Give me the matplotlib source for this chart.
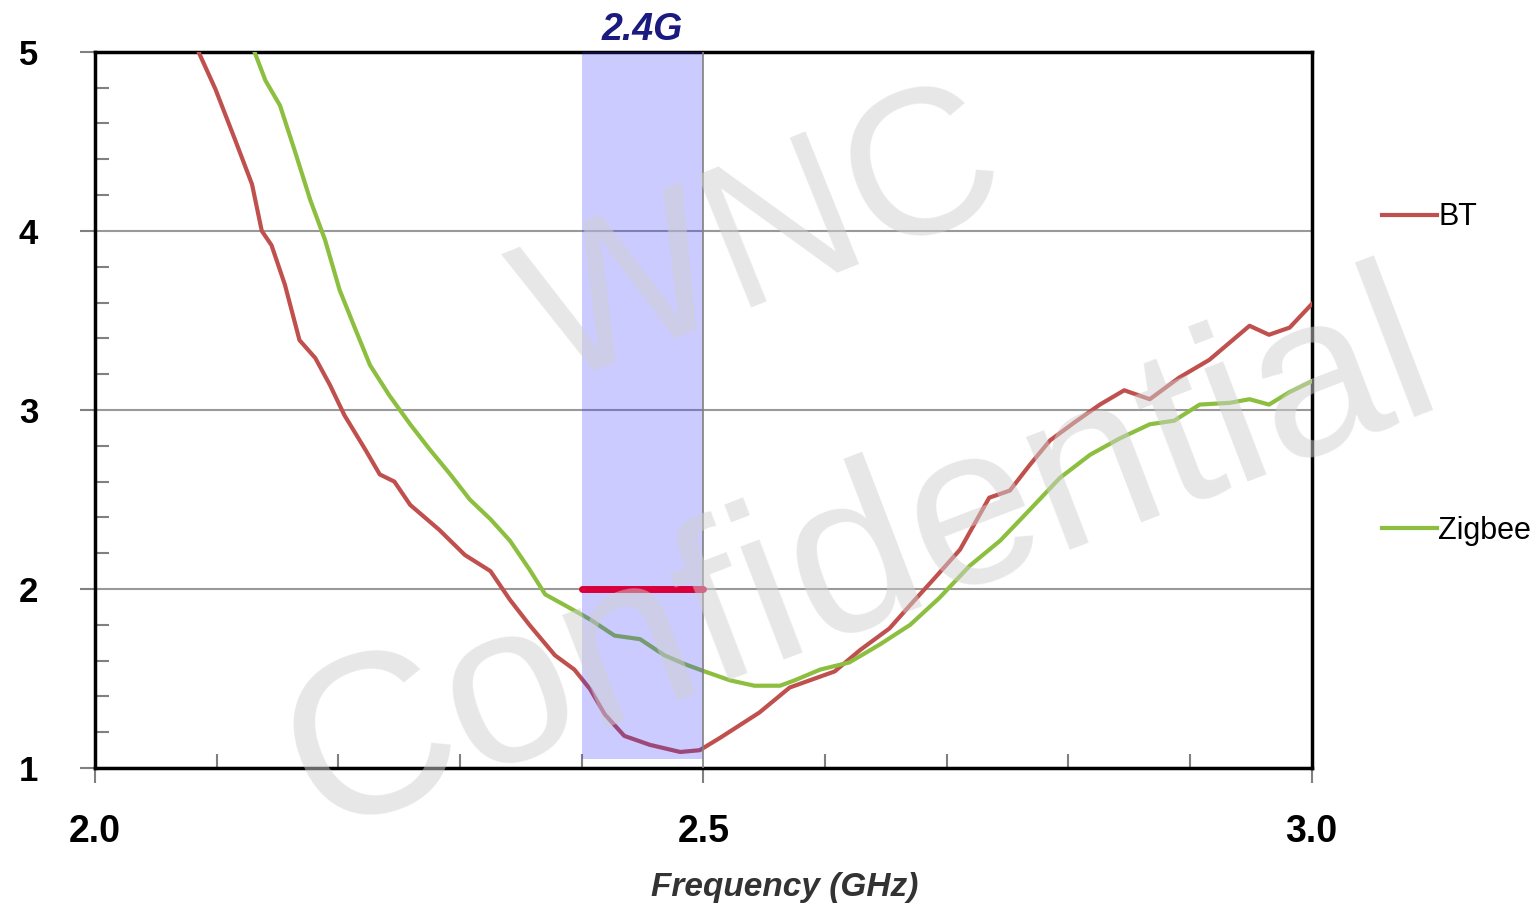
import matplotlib.pyplot as plt
from matplotlib.lines import Line2D
from matplotlib.ticker import MultipleLocator

# data (VSWR vs frequency)
bt_freq = [2.085, 2.099, 2.115, 2.129, 2.137, 2.145, 2.156, 2.168, 2.181, 2.193,
           2.205, 2.222, 2.234, 2.246, 2.259, 2.283, 2.304, 2.325, 2.341, 2.357,
           2.378, 2.394, 2.407, 2.419, 2.435, 2.456, 2.481, 2.497, 2.514, 2.546,
           2.571, 2.608, 2.629, 2.653, 2.670, 2.690, 2.711, 2.735, 2.752, 2.768,
           2.785, 2.805, 2.826, 2.846, 2.867, 2.891, 2.916, 2.949, 2.965, 2.982,
           3.000]
bt_vswr = [5.00, 4.79, 4.51, 4.26, 4.00, 3.92, 3.70, 3.39, 3.29, 3.14,
           2.97, 2.78, 2.64, 2.60, 2.47, 2.33, 2.19, 2.10, 1.94, 1.80,
           1.63, 1.55, 1.44, 1.30, 1.18, 1.13, 1.09, 1.10, 1.17, 1.31,
           1.45, 1.54, 1.66, 1.78, 1.91, 2.06, 2.22, 2.51, 2.55, 2.69,
           2.83, 2.93, 3.03, 3.11, 3.06, 3.18, 3.28, 3.47, 3.42, 3.46,
           3.59]

zig_freq = [2.131, 2.140, 2.152, 2.164, 2.177, 2.189, 2.201, 2.214, 2.226, 2.242,
            2.259, 2.275, 2.292, 2.308, 2.325, 2.341, 2.357, 2.370, 2.386, 2.407,
            2.427, 2.448, 2.468, 2.485, 2.501, 2.522, 2.542, 2.563, 2.575, 2.596,
            2.620, 2.645, 2.670, 2.694, 2.719, 2.744, 2.768, 2.793, 2.818, 2.842,
            2.867, 2.887, 2.908, 2.933, 2.949, 2.965, 2.982, 3.000]
zig_vswr = [5.00, 4.84, 4.70, 4.45, 4.17, 3.95, 3.67, 3.45, 3.25, 3.08,
            2.92, 2.78, 2.64, 2.50, 2.39, 2.27, 2.11, 1.97, 1.91, 1.83,
            1.74, 1.72, 1.63, 1.58, 1.54, 1.49, 1.46, 1.46, 1.49, 1.55,
            1.59, 1.69, 1.80, 1.95, 2.13, 2.27, 2.44, 2.62, 2.75, 2.84,
            2.92, 2.94, 3.03, 3.04, 3.06, 3.03, 3.10, 3.16]

band = [2.4, 2.5]
spec_limit = 2.0
x_ticks = [2.0, 2.5, 3.0]
x_tick_labels = ['2.0', '2.5', '3.0']
y_ticks = [1, 2, 3, 4, 5]

bt_color = '#c0504d'
zig_color = '#8cbf3f'

plt.rcParams['font.family'] = ['Liberation Sans', 'DejaVu Sans']

fig = plt.figure(figsize=(15.34, 9.09), dpi=100)
ax = fig.add_axes([0.062, 0.155, 0.793, 0.788])

# curves
ax.plot(bt_freq, bt_vswr, color=bt_color, lw=3, zorder=3, solid_joinstyle='round')
ax.plot(zig_freq, zig_vswr, color=zig_color, lw=3, zorder=3, solid_joinstyle='round')

# 2.4G band, drawn over the curves
ax.fill_between(band, 1.05, 5, color='#3333ff', alpha=0.25, lw=0, zorder=4)
ax.plot([band[1], band[1]], [1, 5], color='#808080', lw=1.2, zorder=4)
ax.plot(band, [spec_limit, spec_limit], color='#d8003a', lw=5, zorder=5,
        solid_capstyle='round')
ax.text(sum(band) / 2, 5.02, '2.4G', ha='center', va='bottom', fontsize=27,
        fontweight='bold', fontstyle='italic', color='#1a1a80')

# watermark
ax.text(2.55, 3.93, 'WNC', fontsize=150, color='#d0d0d0',
        alpha=0.5, rotation=22, ha='center', va='center', zorder=6)
ax.text(2.63, 2.15, 'Confidential', fontsize=165,
        color='#d0d0d0', alpha=0.5, rotation=21, ha='center', va='center', zorder=6)

ax.set_xlim(2.0, 3.0)
ax.set_ylim(1, 5)
ax.set_xticks(x_ticks)
ax.set_xticklabels(x_tick_labels)
ax.set_yticks(y_ticks)
ax.xaxis.set_minor_locator(MultipleLocator(0.1))
ax.yaxis.set_minor_locator(MultipleLocator(0.2))
ax.tick_params(axis='both', which='major', direction='out', length=11, width=1.5,
               color='#808080', labelsize=25)
ax.tick_params(axis='x', which='major', pad=22, labelsize=27)
ax.tick_params(axis='y', which='major', pad=30)
ax.tick_params(axis='both', which='minor', direction='in', length=10, width=1.5,
               color='#808080')
for lab in ax.get_xticklabels() + ax.get_yticklabels():
    lab.set_fontweight('bold')

ax.grid(axis='y', which='major', color='#999999', lw=1.5)
ax.set_axisbelow(True)
for s in ax.spines.values():
    s.set_color('black')
    s.set_linewidth(2.5)

ax.set_xlabel('Frequency (GHz)', fontsize=24, fontweight='bold', fontstyle='italic',
              color='#333333')
ax.xaxis.set_label_coords(0.567, -0.166)
ax.xaxis.label.set_va('center')

# legend entries on the right
leg1 = ax.legend([Line2D([], [], color=bt_color, lw=3)], ['BT'], frameon=False,
                 loc='center left', bbox_to_anchor=(1.035, 0.769), fontsize=22,
                 handlelength=1.8, handletextpad=0.05)
ax.add_artist(leg1)
ax.legend([Line2D([], [], color=zig_color, lw=3)], ['Zigbee'], frameon=False,
          loc='center left', bbox_to_anchor=(1.035, 0.331), fontsize=22,
          handlelength=1.8, handletextpad=0.05)

fig.savefig('out.png', dpi=100)
